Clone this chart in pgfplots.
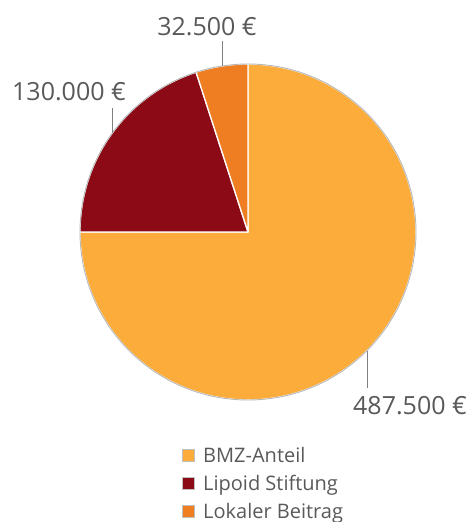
\documentclass[border=0pt]{standalone}
\usepackage{pgfplots}
\pgfplotsset{compat=1.18}
\usepackage{pgfplotstable}
\usepackage{fontspec}
\setmainfont{Open Sans}

\definecolor{cBMZ}{HTML}{FBAC3B}
\definecolor{cLip}{HTML}{8B0A16}
\definecolor{cLok}{HTML}{EF7D22}
\definecolor{txt}{HTML}{595959}

\pgfplotstableread{
value
487500
130000
32500
}\pietable

\begin{document}
\pgfplotstablegetelem{0}{value}\of\pietable \edef\vA{\pgfplotsretval}%
\pgfplotstablegetelem{1}{value}\of\pietable \edef\vB{\pgfplotsretval}%
\pgfplotstablegetelem{2}{value}\of\pietable \edef\vC{\pgfplotsretval}%
\edef\sZ{90}%
\edef\sA{\fpeval{90-360*\vA/(\vA+\vB+\vC)}}%
\edef\sB{\fpeval{\sA-360*\vB/(\vA+\vB+\vC)}}%
\edef\sC{\fpeval{\sB-360*\vC/(\vA+\vB+\vC)}}%
\begin{tikzpicture}
\begin{axis}[hide axis, scale only axis, width=474pt, height=522pt,
  xmin=0, xmax=474, ymin=0, ymax=522, clip=false]
\coordinate (ll) at (axis cs:0,0);
\coordinate (ur) at (axis cs:474,522);
% wedges
\addplot[fill=cBMZ, draw=white, line width=1.3pt, line join=round, domain=\sA:\sZ, samples=180, variable=\t]
  ({248+168*cos(\t)}, {290+168*sin(\t)}) -- (axis cs:248,290) -- cycle;
\addplot[fill=cLip, draw=white, line width=1.3pt, line join=round, domain=\sB:\sA, samples=60, variable=\t]
  ({248+168*cos(\t)}, {290+168*sin(\t)}) -- (axis cs:248,290) -- cycle;
\addplot[fill=cLok, draw=white, line width=1.3pt, line join=round, domain=\sC:\sB, samples=20, variable=\t]
  ({248+168*cos(\t)}, {290+168*sin(\t)}) -- (axis cs:248,290) -- cycle;
% outer border
\addplot[draw=black!28, line width=0.9pt, domain=0:360, samples=240, variable=\t]
  ({248+168*cos(\t)}, {290+168*sin(\t)});
% leader lines
\draw[black!50, line width=0.7pt] (axis cs:222,{522-66}) -- (axis cs:222,{522-41});
\draw[black!50, line width=0.7pt] (axis cs:112,{522-133}) -- (axis cs:112,{522-108});
\draw[black!50, line width=0.7pt] (axis cs:367,{522-351}) -- (axis cs:367,{522-388});
% data labels
\node[txt, inner sep=0pt, font=\fontsize{25}{30}\selectfont] at (axis cs:207,{522-27}) {32.500 €};
\node[txt, inner sep=0pt, font=\fontsize{25}{30}\selectfont] at (axis cs:69,{522-92}) {130.000 €};
\node[txt, inner sep=0pt, font=\fontsize{25}{30}\selectfont] at (axis cs:410,{522-406}) {487.500 €};
% legend
\foreach \yy/\cc/\ll in {455/cBMZ/BMZ-Anteil, 483/cLip/Lipoid Stiftung, 511/cLok/Lokaler Beitrag}{
  \edef\tmp{\noexpand\fill[\cc, draw=black!25, line width=0.5pt] (axis cs:182.5,{522-\yy-5.8}) rectangle (axis cs:194,{522-\yy+5.8});}\tmp
  \edef\tmp{\noexpand\node[txt, anchor=base west, inner sep=0pt, font=\noexpand\fontsize{20}{24}\noexpand\selectfont] at (axis cs:203,{522-\yy-7.2}) {\ll};}\tmp
}
\end{axis}
\pgfresetboundingbox
\path[use as bounding box] (ll) rectangle (ur);
\end{tikzpicture}
\end{document}
